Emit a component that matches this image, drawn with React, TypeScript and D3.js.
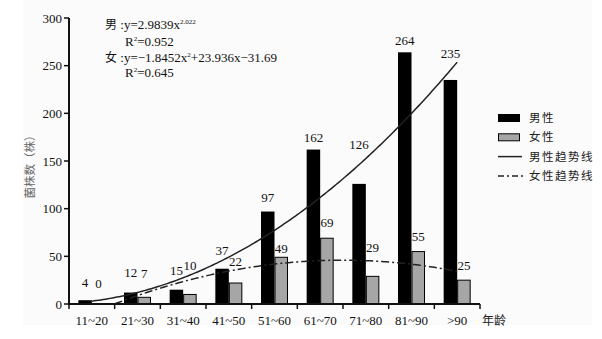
import React from "react";
import * as d3 from "d3";

const categories = ["11~20", "21~30", "31~40", "41~50", "51~60", "61~70", "71~80", "81~90", ">90"];
const maleValues = [4, 12, 15, 37, 97, 162, 126, 264, 235];
const femaleValues = [0, 7, 10, 22, 49, 69, 29, 55, 25];
const yTicks = [0, 50, 100, 150, 200, 250, 300];
// label lift above bar top (px), as placed in the source figure
const maleLabelLift = [12.7, 15.4, 14.5, 14.2, 9.3, 7.4, 34.4, 7.1, 22.2];
const femaleLabelLift = [16.5, 19.5, 24.3, 16.8, 4.5, 11, 24.2, 10.4, 9.7];
const legendItems = ["男性", "女性", "男性趋势线", "女性趋势线"];

const maleTrend = (x: number) => 2.9839 * Math.pow(x, 2.022);
const femaleTrend = (x: number) => -1.8452 * x * x + 23.936 * x - 31.69;

const W = 602, H = 339;
const left = 69, right = 480, top = 18, bottom = 304;
const serif = "'Liberation Serif', 'Times New Roman', serif";
const cjk = "'Noto Sans CJK SC', sans-serif";

export default function App() {
  const x = d3.scaleBand<string>().domain(categories).range([left, right]).paddingInner(0).paddingOuter(0);
  const y = d3.scaleLinear().domain([0, 300]).range([bottom, top]);
  const groupW = 27;
  const inner = d3.scaleBand<string>().domain(["m", "f"]).range([0, groupW]);
  const bw = inner.bandwidth();
  const center = (i: number) => (x(categories[i]) as number) + x.bandwidth() / 2;
  const idxX = d3.scaleLinear().domain([1, categories.length]).range([center(0), center(categories.length - 1)]);

  const line = d3.line<number>().x((t) => idxX(t)).y((t) => y(t < 1.5 ? maleTrend(t) : maleTrend(t))).curve(d3.curveLinear);
  const maleXs = d3.range(1, 9.001, 0.05);
  const femaleXs = d3.range(1.5, 9.001, 0.05);
  const malePath = d3.line<number>().x((t) => idxX(t)).y((t) => y(maleTrend(t)))(maleXs);
  const femalePath = d3.line<number>().x((t) => idxX(t)).y((t) => y(femaleTrend(t)))(femaleXs);
  void line;

  const ticksX = categories.map((c) => x(c) as number).concat([right]);

  return (
    <svg width={W} height={H} style={{ position: "absolute", left: 0, top: 0 }}>
      <rect x={0} y={0} width={W} height={H} fill="#fff" />
      <rect x={23} y={0} width={569} height={325} fill="#fbfbfb" />
      {/* bars */}
      {categories.map((c, i) => {
        const gx = center(i) - groupW / 2;
        return (
          <g key={c}>
            <rect x={gx + (inner("m") as number)} y={y(maleValues[i])} width={bw} height={bottom - y(maleValues[i])} fill="#000" />
            {femaleValues[i] > 0 && (
              <rect x={gx + (inner("f") as number) + 0.5} y={y(femaleValues[i])} width={bw - 1} height={bottom - y(femaleValues[i])} fill="#a6a6a6" stroke="#000" strokeWidth={1} />
            )}
          </g>
        );
      })}
      {/* trend lines */}
      <path d={malePath || ""} fill="none" stroke="#222" strokeWidth={1.5} />
      <path d={femalePath || ""} fill="none" stroke="#222" strokeWidth={1.5} strokeDasharray="8 3 2 3" />
      {/* value labels */}
      {categories.map((c, i) => {
        const gx = center(i) - groupW / 2;
        return (
          <g key={"l" + c} fontFamily={serif} fontSize={13} textAnchor="middle" fill="#111">
            <text x={gx + (inner("m") as number) + bw / 2} y={y(maleValues[i]) - maleLabelLift[i]}>{maleValues[i]}</text>
            <text x={gx + (inner("f") as number) + bw / 2} y={y(femaleValues[i]) - femaleLabelLift[i]}>{femaleValues[i]}</text>
          </g>
        );
      })}
      {/* axes */}
      <line x1={left} x2={left} y1={top} y2={bottom + 1} stroke="#111" strokeWidth={2} />
      <line x1={left - 1} x2={right} y1={bottom} y2={bottom} stroke="#111" strokeWidth={2} />
      {yTicks.map((t) => (
        <g key={t}>
          <line x1={left - 5} x2={left} y1={y(t)} y2={y(t)} stroke="#111" strokeWidth={1.5} />
          <text x={left - 7} y={y(t) + 4.5} textAnchor="end" fontFamily={serif} fontSize={13} fill="#111">{t}</text>
        </g>
      ))}
      {ticksX.map((tx, i) => (
        <line key={i} x1={tx} x2={tx} y1={bottom} y2={bottom + 5} stroke="#111" strokeWidth={1.5} />
      ))}
      {categories.map((c, i) => (
        <text key={"t" + c} x={center(i)} y={324.5} textAnchor="middle" fontFamily={serif} fontSize={13} fill="#111">{c}</text>
      ))}
      <text x={482} y={324.5} fontFamily={cjk} fontSize={12} fill="#222">年龄</text>
      <text transform={`translate(34,164) rotate(-90)`} textAnchor="middle" fontFamily={cjk} fontSize={11.5} fill="#666">菌株数（株）</text>
      {/* equations */}
      <g fontFamily={serif} fontSize={13} fill="#111">
        <text x={105} y={29}>
          <tspan fontFamily={cjk} fontSize={12}>男</tspan>
          <tspan> :y=2.9839x</tspan>
          <tspan fontSize={7} dy={-5}>2.022</tspan>
        </text>
        <text x={125} y={46}>
          R<tspan fontSize={7} dy={-5}>2</tspan><tspan dy={5}>=0.952</tspan>
        </text>
        <text x={105} y={62}>
          <tspan fontFamily={cjk} fontSize={12}>女</tspan>
          <tspan> :y=−1.8452x</tspan>
          <tspan fontSize={7} dy={-5}>2</tspan>
          <tspan dy={5}>+23.936x−31.69</tspan>
        </text>
        <text x={125} y={77}>
          R<tspan fontSize={7} dy={-5}>2</tspan><tspan dy={5}>=0.645</tspan>
        </text>
      </g>
      {/* legend */}
      {legendItems.map((item, i) => {
        const ly = 118 + i * 19.3;
        return (
          <g key={item}>
            {i === 0 && <rect x={498} y={ly - 4} width={22} height={8} fill="#000" />}
            {i === 1 && <rect x={498.5} y={ly - 3.5} width={21} height={7} fill="#a6a6a6" stroke="#000" strokeWidth={1} />}
            {i === 2 && <line x1={498} x2={522} y1={ly} y2={ly} stroke="#222" strokeWidth={1.5} />}
            {i === 3 && <line x1={498} x2={524} y1={ly} y2={ly} stroke="#222" strokeWidth={1.5} strokeDasharray="6 3 2 3" />}
            <text x={529} y={ly + 4} fontFamily={cjk} fontSize={11.5} letterSpacing={1.5} fill="#222">{item}</text>
          </g>
        );
      })}
    </svg>
  );
}
